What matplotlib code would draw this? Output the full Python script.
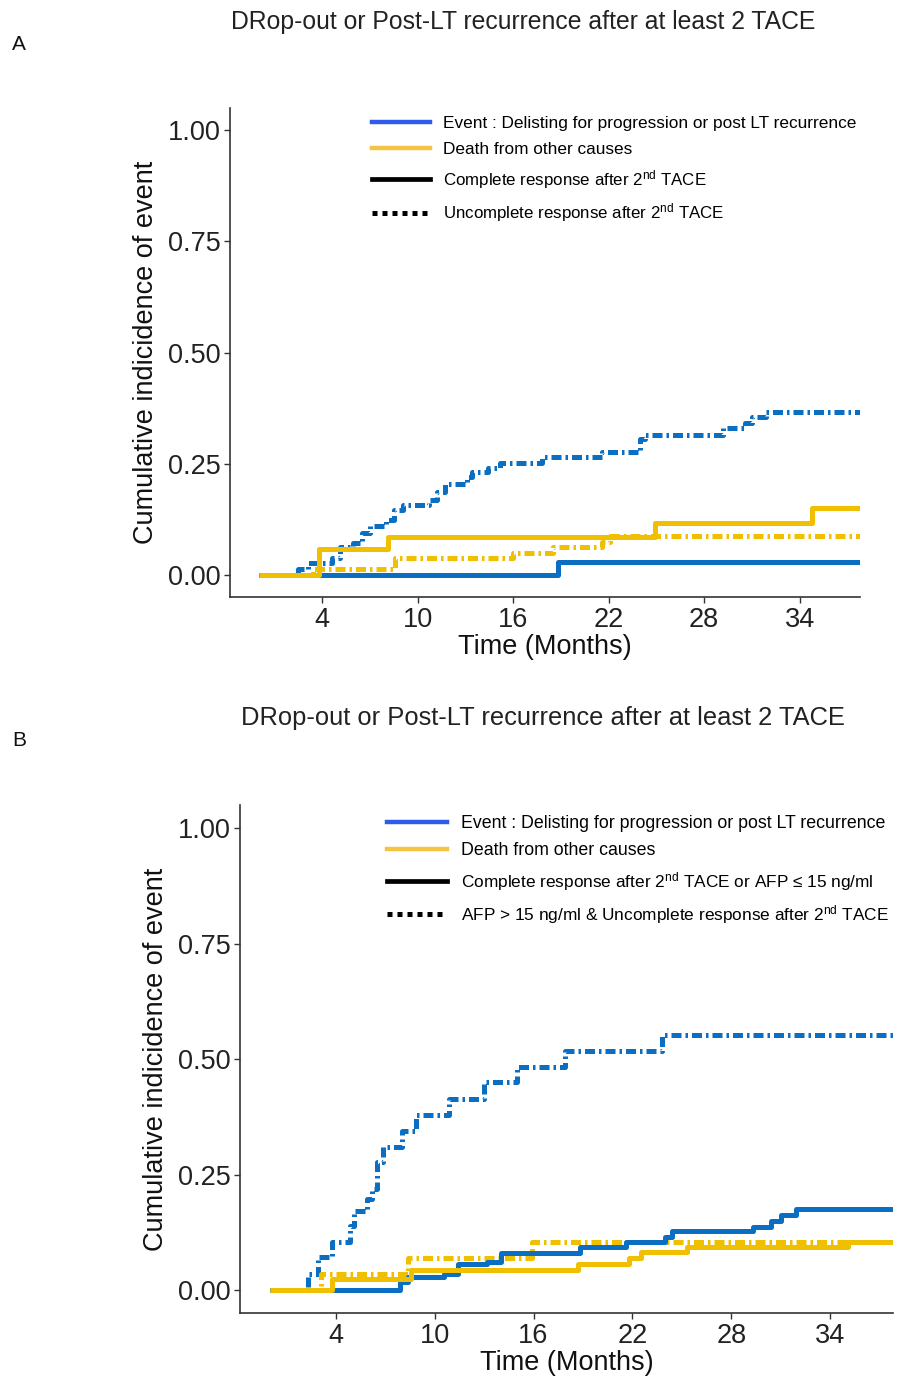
import matplotlib
matplotlib.use("Agg")
import matplotlib.pyplot as plt
from matplotlib.lines import Line2D

plt.rcParams['font.family'] = ['Liberation Sans', 'DejaVu Sans']
plt.rcParams['mathtext.fontset'] = 'custom'
plt.rcParams['mathtext.rm'] = 'Liberation Sans'
plt.rcParams['mathtext.it'] = 'Liberation Sans:italic'

T_END = 37.8

# ---------------- Panel A data ----------------
a_event_unc_t = [0, 2.5, 3.1, 4.6, 5.1, 5.9, 6.5, 7.0, 8.0, 8.5, 9.1, 10.7, 11.2, 11.7,
                 13.1, 13.4, 14.4, 15.2, 17.8, 21.6, 24.0, 24.3, 29.2, 30.6, 31.0, 31.9]
a_event_unc_v = [0, .013, .027, .038, .063, .072, .094, .11, .123, .146, .157, .168, .186, .206,
                 .22, .231, .242, .253, .265, .278, .307, .316, .33, .343, .356, .367]
a_event_comp_t = [0, 18.8]
a_event_comp_v = [0, .029]
a_death_comp_t = [0, 3.8, 8.15, 24.9, 34.8]
a_death_comp_v = [0, .058, .085, .117, .152]
a_death_unc_t = [0, 3.4, 8.6, 16.0, 18.5, 21.6, 22.1]
a_death_unc_v = [0, .013, .038, .049, .063, .074, .087]

# ---------------- Panel B data ----------------
b_event_unc_t = [0, 2.3, 2.9, 3.8, 4.85, 5.1, 5.9, 6.2, 6.5, 6.9, 8.0, 8.9, 10.9, 13.0, 15.0, 17.9, 23.8]
b_event_unc_v = [0, .035, .072, .104, .139, .171, .197, .219, .277, .31, .344, .379, .413, .45, .483, .517, .552]
b_event_comp_t = [0, 7.9, 8.4, 10.6, 11.4, 13.2, 14.0, 18.8, 21.6, 24.0, 24.4, 29.3, 30.4, 31.0, 31.9]
b_event_comp_v = [0, .017, .028, .035, .056, .062, .08, .093, .104, .115, .128, .136, .149, .164, .175]
b_death_comp_t = [0, 3.8, 8.6, 18.7, 21.8, 22.5, 25.3, 35.1]
b_death_comp_v = [0, .024, .045, .058, .071, .082, .093, .104]
b_death_unc_t = [0, 3.1, 8.4, 15.9]
b_death_unc_v = [0, .036, .071, .104]

x_ticks = [4, 10, 16, 22, 28, 34]
y_ticks = [0.0, 0.25, 0.5, 0.75, 1.0]
y_ticklabels = ["0.00", "0.25", "0.50", "0.75", "1.00"]

title = "DRop-out or Post-LT recurrence after at least 2 TACE"
leg_event = "Event : Delisting for progression or post LT recurrence"
leg_death = "Death from other causes"
a_leg_comp = r"Complete response after 2$^{\mathrm{nd}}$ TACE"
a_leg_unc = r"Uncomplete response after 2$^{\mathrm{nd}}$ TACE"
b_leg_comp = r"Complete response after 2$^{\mathrm{nd}}$ TACE or AFP ≤ 15 ng/ml"
b_leg_unc = r"AFP > 15 ng/ml & Uncomplete response after 2$^{\mathrm{nd}}$ TACE"

BLUE = "#0A6FC2"
YELLOW = "#F0BF00"
LEG_BLUE = "#2F5BEA"
LEG_YELLOW = "#F4C443"
LW = 3.6
DASHDOT = (0, (2.0, 0.8, 0.5, 0.8))


def ext(t, v):
    return list(t) + [T_END], list(v) + [v[-1]]


def panel(ax, curves, leg_labels, leg_anchor, leg_fs, leg_space, black_fs):
    for t, v, c, ls in curves:
        tt, vv = ext(t, v)
        ax.step(tt, vv, where='post', color=c, lw=LW, linestyle=ls,
                solid_capstyle='butt', dash_capstyle='butt')
    ax.set_xlim(-1.8, 37.8)
    ax.set_ylim(-0.049, 1.05)
    ax.set_xticks(x_ticks)
    ax.set_yticks(y_ticks)
    ax.set_yticklabels(y_ticklabels)
    for s in ['top', 'right']:
        ax.spines[s].set_visible(False)
    for s in ['left', 'bottom']:
        ax.spines[s].set_linewidth(1.2)
        ax.spines[s].set_color('#333333')
    ax.tick_params(axis='both', labelsize=19.5, length=4, width=1.0,
                   color='#333333', labelcolor='#222222', pad=3)
    ax.set_xlabel("Time (Months)", fontsize=19.5, labelpad=1, color='#111111')
    ax.set_ylabel("Cumulative indicidence of event", fontsize=19.5, labelpad=6, color='#111111')
    handles = [
        Line2D([], [], color=LEG_BLUE, lw=3.2),
        Line2D([], [], color=LEG_YELLOW, lw=3.2),
        Line2D([], [], color='black', lw=3.4),
        Line2D([], [], color='black', lw=3.6, linestyle=(0, (1, 1))),
    ]
    leg = ax.legend(handles, leg_labels, loc='upper left', bbox_to_anchor=leg_anchor,
                    frameon=False, fontsize=leg_fs, handlelength=3.4, handletextpad=0.75,
                    labelspacing=leg_space, borderaxespad=0, borderpad=0)
    for txt in leg.get_texts()[2:]:
        txt.set_fontsize(black_fs)


fig = plt.figure(figsize=(8.99, 13.8), dpi=100)

axA = fig.add_axes([230 / 899, 1 - 597 / 1380, 630 / 899, 489 / 1380])
panel(axA, [
    (a_event_comp_t, a_event_comp_v, BLUE, '-'),
    (a_death_unc_t, a_death_unc_v, YELLOW, DASHDOT),
    (a_event_unc_t, a_event_unc_v, BLUE, DASHDOT),
    (a_death_comp_t, a_death_comp_v, YELLOW, '-'),
], [leg_event, leg_death, a_leg_comp, a_leg_unc], (0.225, 0.983), 12.4, 0.62, 12.2)

axB = fig.add_axes([240 / 899, 1 - 1313 / 1380, 653 / 899, 508 / 1380])
panel(axB, [
    (b_event_unc_t, b_event_unc_v, BLUE, DASHDOT),
    (b_death_unc_t, b_death_unc_v, YELLOW, DASHDOT),
    (b_event_comp_t, b_event_comp_v, BLUE, '-'),
    (b_death_comp_t, b_death_comp_v, YELLOW, '-'),
], [leg_event, leg_death, b_leg_comp, b_leg_unc], (0.225, 0.98), 12.8, 0.58, 12.4)

fig.text(523 / 899, 1 - 22 / 1380, title, ha='center', va='center', fontsize=17.8, color='#222222')
fig.text(543 / 899, 1 - 718 / 1380, title, ha='center', va='center', fontsize=18.4, color='#222222')
fig.text(12 / 899, 1 - 45 / 1380, "A", ha='left', va='center', fontsize=15, color='#111111')
fig.text(12 / 899, 1 - 740 / 1380, "B", ha='left', va='center', fontsize=15, color='#111111')

fig.savefig("out.png", dpi=100)
